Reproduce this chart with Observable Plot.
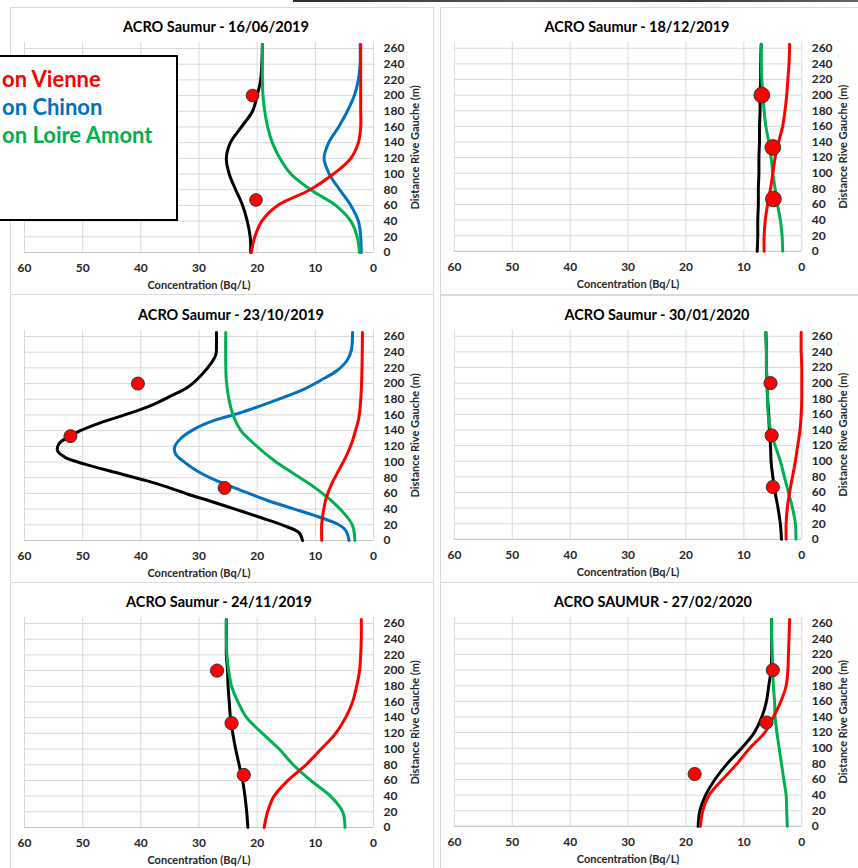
<!DOCTYPE html>
<html>
<head>
<meta charset="utf-8">
<script src="https://cdn.jsdelivr.net/npm/d3@7"></script>
<script src="https://cdn.jsdelivr.net/npm/@observablehq/plot@0.6"></script>
<style>
  body { margin: 0; background: #fff; }
  #root { position: relative; width: 858px; height: 868px; overflow: hidden; background: #fff; font-family: Lato, "Open Sans", sans-serif; }
  .frame { position: absolute; border: 1px solid #d9d9d9; box-sizing: border-box; }
  .panel { position: absolute; }
  #strip { position: absolute; left: 293px; top: 0; width: 570px; height: 2px; background: linear-gradient(90deg, #2e2e2e, #555 40%, #3a3a3a 70%, #666); }
  #legend { position: absolute; left: -10px; top: 55px; width: 188px; height: 166px; box-sizing: border-box; border: 2px solid #000; background: #fff; z-index: 5; }
  #legend div { position: absolute; left: 10px; font-weight: bold; font-size: 22px; line-height: 28px; white-space: nowrap; font-family: Lato, sans-serif; }
</style>
</head>
<body>
<div id="root"></div>
<script>
// ---------- data ----------
const panelTitles = [
  "ACRO Saumur - 16/06/2019", "ACRO Saumur - 18/12/2019",
  "ACRO Saumur - 23/10/2019", "ACRO Saumur - 30/01/2020",
  "ACRO Saumur - 24/11/2019", "ACRO SAUMUR - 27/02/2020"
];
const legendLabels = ["on Vienne", "on Chinon", "on Loire Amont"];
const xTicks = [0, 10, 20, 30, 40, 50, 60];
const yTicks = [0, 20, 40, 60, 80, 100, 120, 140, 160, 180, 200, 220, 240, 260];
const xLabel = "Concentration (Bq/L)";
const yLabel = "Distance Rive Gauche (m)";

// distances (m) at which curves were read
const gridDist = [0, 20, 40, 60, 80, 100, 120, 140, 160, 180, 200, 220, 240, 265];
const pointDist = [67, 133, 200];

// 16/06/2019
const p1Black = [21.1, 21.2, 21.7, 22.5, 23.7, 24.8, 25.3, 24.6, 22.7, 20.8, 20.0, 19.4, 19.2, 19.1];
const p1Blue  = [2.1, 2.2, 2.6, 3.9, 5.8, 7.6, 8.5, 7.7, 6.0, 4.5, 3.3, 2.6, 2.3, 2.3];
const p1Green = [2.4, 2.8, 3.9, 6.5, 10.8, 14.2, 16.1, 17.4, 18.2, 18.7, 19.0, 19.1, 19.1, 19.1];
const p1Red   = [21.0, 20.4, 19.2, 16.5, 10.9, 6.9, 3.9, 2.6, 2.2, 2.2, 2.2, 2.2, 2.2, 2.2];
const p1PointDist = [67, 200];
const p1Points = [20.2, 20.8];

// 18/12/2019
const p2Black = [7.7, 7.6, 7.6, 7.5, 7.5, 7.4, 7.4, 7.3, 7.3, 7.2, 7.2, 7.1, 7.1, 7.0];
const p2Green = [3.3, 3.4, 3.7, 4.2, 4.6, 5.0, 5.3, 5.7, 6.2, 6.5, 6.7, 6.9, 7.0, 7.0];
const p2Red   = [6.5, 6.5, 6.3, 5.9, 5.4, 5.0, 4.6, 4.0, 3.3, 2.9, 2.6, 2.4, 2.2, 2.1];
const p2Points = [4.9, 5.0, 6.9];

// 23/10/2019
const p3BlackDist = [0, 10, 19, 29, 40, 51, 59, 68, 76, 87, 97, 106, 114, 123, 131, 140, 150, 161, 172, 184, 195, 210, 225, 237, 250, 265];
const p3Black     = [12.2, 12.8, 15.4, 19.3, 23.8, 28.4, 31.9, 35.4, 38.9, 44.5, 49.5, 53.0, 54.3, 54.1, 52.7, 50.4, 47.0, 42.4, 38.3, 34.9, 32.0, 29.7, 28.0, 27.1, 27.0, 27.0];
const p3BlueDist  = [0, 13, 21, 29, 40, 51, 64, 76, 89, 102, 110, 119, 131, 142, 153, 163, 178, 191, 204, 217, 230, 243, 265];
const p3Blue      = [4.2, 4.8, 6.2, 9.0, 13.6, 18.2, 22.8, 26.9, 30.4, 32.9, 34.0, 34.2, 33.0, 30.8, 27.4, 22.8, 17.1, 12.5, 9.1, 6.2, 4.5, 3.8, 3.6];
const p3GreenDist = [0, 19, 34, 51, 68, 85, 102, 123, 140, 157, 178, 204, 265];
const p3Green     = [3.2, 3.6, 5.0, 7.3, 10.2, 13.7, 17.1, 20.5, 22.8, 24.0, 24.8, 25.3, 25.4];
const p3RedDist   = [0, 21, 38, 55, 72, 89, 106, 123, 140, 157, 191, 265];
const p3Red       = [8.9, 8.9, 8.6, 8.1, 7.2, 6.0, 4.8, 3.8, 3.1, 2.5, 2.1, 1.9];
const p3Points = [25.6, 52.1, 40.5];

// 30/01/2020
const p4Black = [3.5, 3.7, 4.1, 4.6, 5.0, 5.3, 5.4, 5.6, 5.7, 5.9, 6.0, 6.1, 6.1, 6.2];
const p4Green = [1.0, 1.1, 1.6, 2.3, 3.0, 3.7, 4.6, 5.4, 5.8, 5.9, 6.0, 6.1, 6.1, 6.2];
const p4Red   = [2.7, 2.7, 2.5, 2.1, 1.6, 1.1, 0.7, 0.3, 0.1, 0.0, 0.0, 0.0, 0.1, 0.1];
const p4Points = [5.0, 5.2, 5.4];

// 24/11/2019
const p5Black = [21.6, 21.8, 22.1, 22.5, 23.1, 23.7, 24.2, 24.6, 24.8, 25.0, 25.1, 25.3, 25.3, 25.3];
const p5Green = [4.9, 5.3, 7.4, 10.8, 13.8, 16.2, 19.1, 21.8, 23.3, 24.4, 24.9, 25.2, 25.3, 25.3];
const p5Red   = [18.8, 18.2, 17.1, 14.7, 11.6, 9.0, 6.5, 4.8, 3.6, 2.9, 2.4, 2.2, 2.1, 2.1];
const p5Points = [22.3, 24.4, 26.9];

// 27/02/2020
const p6Black = [17.9, 17.6, 16.6, 15.0, 12.9, 10.4, 8.2, 6.9, 6.1, 5.7, 5.3, 5.2, 5.2, 5.2];
const p6Red   = [17.5, 17.1, 16.0, 13.7, 11.2, 9.0, 6.4, 4.9, 3.6, 2.7, 2.4, 2.3, 2.2, 2.1];
const p6Green = [2.5, 2.6, 2.7, 3.1, 3.5, 3.9, 4.3, 4.6, 4.7, 4.9, 5.0, 5.1, 5.2, 5.2];
const p6Points = [18.5, 6.1, 5.0];

// ---------- styling / layout ----------
const colors = { black: "#000000", red: "#ff0000", blue: "#0070c0", green: "#00b050" };
const rows = (dist, conc) => dist.map((d, i) => ({ d, c: conc[i] }));

const panels = [
  { series: [[gridDist, p1Black, "black"], [gridDist, p1Blue, "blue"], [gridDist, p1Green, "green"], [gridDist, p1Red, "red"]],
    points: rows(p1PointDist, p1Points), r: 6.3, titleDx: 17 },
  { series: [[gridDist, p2Black, "black"], [gridDist, p2Green, "green"], [gridDist, p2Red, "red"]],
    points: rows(pointDist, p2Points), r: 7.9, titleDx: 9 },
  { series: [[p3BlackDist, p3Black, "black"], [p3BlueDist, p3Blue, "blue"], [p3GreenDist, p3Green, "green"], [p3RedDist, p3Red, "red"]],
    points: rows(pointDist, p3Points), r: 6.5, titleDx: 32 },
  { series: [[gridDist, p4Black, "black"], [gridDist, p4Green, "green"], [gridDist, p4Red, "red"]],
    points: rows(pointDist, p4Points), r: 6.6, titleDx: 29 },
  { series: [[gridDist, p5Black, "black"], [gridDist, p5Green, "green"], [gridDist, p5Red, "red"]],
    points: rows(pointDist, p5Points), r: 6.6, titleDx: 20 },
  { series: [[gridDist, p6Black, "black"], [gridDist, p6Green, "green"], [gridDist, p6Red, "red"]],
    points: rows(pointDist, p6Points), r: 6.6, titleDx: 25 }
];

const root = document.getElementById("root");
const strip = document.createElement("div"); strip.id = "strip"; root.appendChild(strip);

// chart-area frames
const frames = [
  [10, 7, 424, 288], [440, 7, 430, 288],
  [10, 294, 424, 289], [440, 295, 430, 288],
  [10, 582, 424, 300], [440, 582, 430, 300]
];
for (const [l, t, w, h] of frames) {
  const f = document.createElement("div");
  f.className = "frame";
  Object.assign(f.style, { left: l + "px", top: t + "px", width: w + "px", height: h + "px" });
  root.appendChild(f);
}

const W = 430, H = 290;
const rowTop = [0, 290, 578];
const rowZero = [252, 540, 827];
const ppu = 204 / 260;
const yMax = 268;

panels.forEach((p, i) => {
  const row = Math.floor(i / 2), col = i % 2;
  const zero = rowZero[row] - rowTop[row];
  const marginTop = zero - yMax * ppu;
  const marginBottom = H - zero;
  const lineMarks = p.series.map(([dist, conc, key]) =>
    Plot.line(rows(dist, conc), { x: "c", y: "d", stroke: colors[key], strokeWidth: 3, curve: "catmull-rom" }));
  const chart = Plot.plot({
    width: W, height: H,
    marginLeft: 24, marginRight: 57, marginTop, marginBottom,
    x: { domain: [0, 60], reverse: true },
    y: { domain: [0, yMax] },
    style: { background: "transparent", overflow: "visible", fontFamily: "Lato, sans-serif", color: "#262626" },
    marks: [
      Plot.gridX({ ticks: xTicks, stroke: "#d9d9d9", strokeOpacity: 1 }),
      Plot.gridY({ ticks: yTicks, stroke: "#d9d9d9", strokeOpacity: 1 }),
      Plot.ruleY([0], { stroke: "#c8c8c8" }),
      Plot.axisX({ ticks: xTicks, tickSize: 0, tickPadding: 11, fontSize: 12, fontWeight: "bold", label: null }),
      Plot.axisY({ anchor: "right", ticks: yTicks, tickSize: 0, tickPadding: 10, fontSize: 12, fontWeight: "bold", label: null }),
      ...lineMarks,
      Plot.dot(p.points, { x: "c", y: "d", r: p.r, fill: colors.red, stroke: "#333", strokeWidth: 1 }),
      Plot.text([panelTitles[i]], { frameAnchor: "top", lineAnchor: "middle", dy: -15, dx: p.titleDx, fontSize: 14.5, fontWeight: "bold", fill: "#000" }),
      Plot.text([xLabel], { frameAnchor: "bottom", lineAnchor: "middle", dy: 33, fontSize: 11, fontWeight: "bold" }),
      Plot.text([yLabel], { frameAnchor: "right", textAnchor: "middle", lineAnchor: "middle", dx: 42, rotate: -90, fontSize: 11, fontWeight: "bold" })
    ]
  });
  const holder = document.createElement("div");
  holder.className = "panel";
  holder.style.left = (col * 430) + "px";
  holder.style.top = rowTop[row] + "px";
  holder.appendChild(chart);
  root.appendChild(holder);
});

// legend (cropped in the original)
const legend = document.createElement("div");
legend.id = "legend";
const legendColors = [colors.red, colors.blue, colors.green];
legendLabels.forEach((t, i) => {
  const d = document.createElement("div");
  d.textContent = t;
  d.style.color = legendColors[i];
  d.style.top = (8 + i * 28) + "px";
  legend.appendChild(d);
});
root.appendChild(legend);
</script>
</body>
</html>
